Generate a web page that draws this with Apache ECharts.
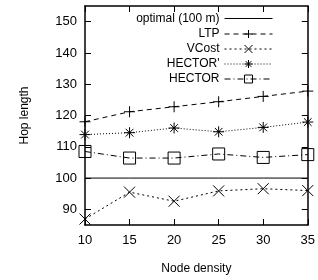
<!DOCTYPE html>
<html>
<head>
<meta charset="utf-8">
<script src="https://cdn.jsdelivr.net/npm/echarts@6/dist/echarts.min.js"></script>
<style>
html, body { margin: 0; padding: 0; background: #fff; }
#chart { width: 318px; height: 280px; }
</style>
</head>
<body>
<div id="chart"></div>
<script>
// 数据
const density = [10, 15, 20, 25, 30, 35];
const optimal = [100, 100, 100, 100, 100, 100];
const ltp = [118, 121.2, 122.8, 124.4, 126.1, 127.8];
const vcost = [86.9, 95.5, 92.6, 95.9, 96.6, 96.0];
const hectorPrime = [113.9, 114.5, 116.0, 114.8, 116.2, 117.9];
const hector = [108.5, 106.4, 106.4, 107.7, 106.6, 107.5];
const yTicks = [90, 100, 110, 120, 130, 140, 150];

const FONT = 'Liberation Sans';
const plusPath = 'path://M5,0L5,10M0,5L10,5';
const crossPath = 'path://M0,0L10,10M10,0L0,10';
const starPath = 'path://M5,0L5,10M0,5L10,5M1.5,1.5L8.5,8.5M8.5,1.5L1.5,8.5';
// 图例里只画一条线（上下两个极短的点撑开包围盒，避免高度为 0）
const solidIcon = 'path://M0,0L0,0.01M0,5L48,5M0,10L0,10.01';

const pairs = (ys) => density.map((x, i) => [x, ys[i]]);

const lineSeries = (name, ys, dash, symbol, size) => ({
  name,
  type: 'line',
  data: pairs(ys),
  symbol,
  symbolSize: size,
  showSymbol: symbol !== 'none',
  lineStyle: { color: '#000', width: 1, type: dash },
  itemStyle: { color: 'none', borderColor: '#000', borderWidth: 1 },
  emphasis: { disabled: true },
  z: 3
});

const chart = echarts.init(document.getElementById('chart'), null, { renderer: 'canvas' });

const tickStyle = { show: true, inside: true, length: 6, lineStyle: { color: '#000', width: 1 } };

chart.setOption({
  animation: false,
  backgroundColor: '#fff',
  grid: { left: 85, right: 9, top: 6, bottom: 51 },
  legend: {
    orient: 'vertical',
    right: 38,
    top: 6,
    align: 'right',
    itemWidth: 48,
    itemHeight: 10,
    itemGap: 1,
    lineStyle: { width: 1 },
    itemStyle: { borderWidth: 1 },
    textStyle: { fontFamily: FONT, fontSize: 12, color: '#000', lineHeight: 14 },
    data: [
      { name: 'optimal (100 m)', icon: solidIcon },
      'LTP', 'VCost', "HECTOR'", 'HECTOR'
    ]
  },
  xAxis: [
    {
      type: 'value',
      min: 10,
      max: 35,
      interval: 5,
      name: 'Node density',
      nameLocation: 'middle',
      nameGap: 38,
      nameTextStyle: { fontFamily: FONT, fontSize: 12, color: '#000' },
      axisLine: { show: true, lineStyle: { color: '#000', width: 1.5 } },
      axisTick: tickStyle,
      axisLabel: { fontFamily: FONT, fontSize: 13, color: '#000', margin: 9 },
      splitLine: { show: false }
    },
    {
      type: 'value',
      position: 'top',
      min: 10,
      max: 35,
      interval: 5,
      axisLine: { show: true, lineStyle: { color: '#000', width: 1.5 } },
      axisTick: tickStyle,
      axisLabel: { show: false },
      splitLine: { show: false }
    }
  ],
  yAxis: [
    {
      type: 'value',
      min: 85,
      max: 155,
      name: 'Hop length',
      nameLocation: 'middle',
      nameGap: 54,
      nameTextStyle: { fontFamily: FONT, fontSize: 12, color: '#000' },
      axisLine: { show: true, lineStyle: { color: '#000', width: 1.5 } },
      axisTick: Object.assign({ customValues: yTicks }, tickStyle),
      axisLabel: { fontFamily: FONT, fontSize: 13, color: '#000', margin: 8, customValues: yTicks },
      splitLine: { show: false }
    },
    {
      type: 'value',
      position: 'right',
      min: 85,
      max: 155,
      axisLine: { show: true, lineStyle: { color: '#000', width: 1.5 } },
      axisTick: Object.assign({ customValues: yTicks }, tickStyle),
      axisLabel: { show: false },
      splitLine: { show: false }
    }
  ],
  series: [
    lineSeries('optimal (100 m)', optimal, 'solid', 'none', 0),
    lineSeries('LTP', ltp, [5, 4], plusPath, 11),
    lineSeries('VCost', vcost, [2, 3], crossPath, 11),
    lineSeries("HECTOR'", hectorPrime, [1, 2], starPath, 11),
    lineSeries('HECTOR', hector, [6, 3, 1, 3], 'rect', 12)
  ]
});
</script>
</body>
</html>
